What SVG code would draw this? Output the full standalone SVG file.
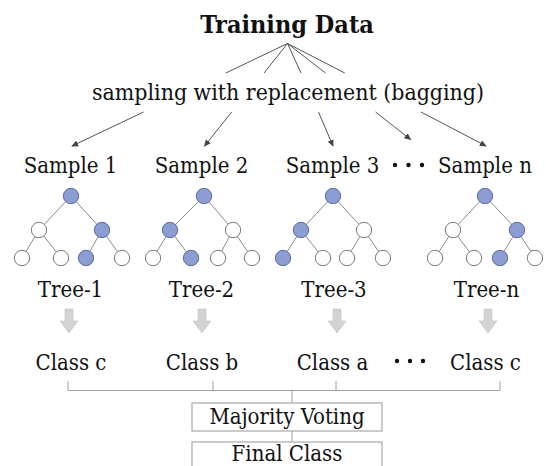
<svg xmlns="http://www.w3.org/2000/svg" width="546" height="466" viewBox="0 0 546 466">
<defs>
<style>
text{font-family:"DejaVu Serif","Liberation Serif",serif;font-stretch:condensed;fill:#111;text-anchor:middle}
.t{font-size:22px}
.title{font-size:25px;font-weight:bold}
.ln{stroke:#555;stroke-width:1;fill:none}
.ar{stroke:#555;stroke-width:1;fill:none;marker-end:url(#ah)}
.e{stroke:#8a8a8a;stroke-width:1;fill:none}
.w{fill:#fff;stroke:#7a7a7a;stroke-width:1}
.b{fill:#8c9dd3;stroke:#5d6c9a;stroke-width:1}
.br{stroke:#a0a0a0;stroke-width:1;fill:none}
.box{fill:#fff;stroke:#a8a8a8;stroke-width:1.2}
.ga{fill:#d3d3d3;stroke:#c4c4c4;stroke-width:0.6}
.dot{fill:#111}
</style>
<marker id="ah" viewBox="0 0 8 8" refX="7" refY="4" markerWidth="7" markerHeight="7" markerUnits="userSpaceOnUse" orient="auto">
<path d="M0,0.5 L8,4 L0,7.5 z" fill="#444"/>
</marker>
<path id="garrow" d="M-4,0 H4 V12 H9 L0,24 L-9,12 H-4 Z"/>
</defs>

<g id="training-data">
<text class="title" x="287" y="33">Training Data</text>
</g>

<g id="connectors">
<line class="ln" x1="287.5" y1="43.5" x2="225.8" y2="73"/>
<line class="ln" x1="287.5" y1="43.5" x2="264" y2="73"/>
<line class="ln" x1="287.5" y1="43.5" x2="301" y2="73"/>
<line class="ln" x1="287.5" y1="43.5" x2="325.5" y2="73"/>
<line class="ln" x1="287.5" y1="43.5" x2="344.8" y2="73"/>
<line class="ar" x1="143.5" y1="112" x2="72" y2="146"/>
<line class="ar" x1="231.7" y1="112" x2="204.5" y2="146"/>
<line class="ar" x1="318.5" y1="112" x2="333" y2="146"/>
<line class="ar" x1="375.6" y1="112" x2="410.6" y2="139.5"/>
<line class="ar" x1="421" y1="112" x2="486" y2="146"/>
<use href="#garrow" class="ga" x="69" y="309"/>
<use href="#garrow" class="ga" x="202" y="309"/>
<use href="#garrow" class="ga" x="337" y="309"/>
<use href="#garrow" class="ga" x="488" y="309"/>
<path class="br" d="M68,381 V390.5 H500 V381 M213,381 V390.5 M336,381 V390.5 M292,390.5 V403 M292,431 V442"/>
</g>

<g id="bagging">
<text class="t" x="288" y="100" textLength="392" lengthAdjust="spacingAndGlyphs">sampling with replacement (bagging)</text>
</g>

<g id="sample-1"><text class="t" x="70.5" y="173">Sample 1</text></g>
<g id="sample-2"><text class="t" x="201.5" y="173">Sample 2</text></g>
<g id="sample-3"><text class="t" x="332.5" y="173">Sample 3</text></g>
<g id="sample-dots"><circle class="dot" cx="395" cy="165" r="2.2"/><circle class="dot" cx="408.5" cy="165" r="2.2"/><circle class="dot" cx="422" cy="165" r="2.2"/></g>
<g id="sample-n"><text class="t" x="485" y="173">Sample n</text></g>

<g id="tree-1">
<path class="e" d="M71,196 L39,230 M71,196 L102,230 M39,230 L22,258 M39,230 L61,258 M102,230 L86,258 M102,230 L122,258"/>
<circle class="b" cx="71" cy="196" r="7.7"/>
<circle class="w" cx="39" cy="230" r="7.7"/><circle class="b" cx="102" cy="230" r="7.7"/>
<circle class="w" cx="22" cy="258" r="7.7"/><circle class="w" cx="61" cy="258" r="7.7"/><circle class="b" cx="86" cy="258" r="7.7"/><circle class="w" cx="122" cy="258" r="7.7"/>
<text class="t" x="70.5" y="297">Tree-1</text>
</g>
<g id="tree-2">
<path class="e" d="M204,196 L170,230 M204,196 L233,230 M170,230 L153,258 M170,230 L191,258 M233,230 L218,258 M233,230 L252,258"/>
<circle class="b" cx="204" cy="196" r="7.7"/>
<circle class="b" cx="170" cy="230" r="7.7"/><circle class="w" cx="233" cy="230" r="7.7"/>
<circle class="w" cx="153" cy="258" r="7.7"/><circle class="b" cx="191" cy="258" r="7.7"/><circle class="w" cx="218" cy="258" r="7.7"/><circle class="w" cx="252" cy="258" r="7.7"/>
<text class="t" x="201.5" y="297">Tree-2</text>
</g>
<g id="tree-3">
<path class="e" d="M333,196 L301,230 M333,196 L364,230 M301,230 L283,258 M301,230 L323,258 M364,230 L347,258 M364,230 L383,258"/>
<circle class="b" cx="333" cy="196" r="7.7"/>
<circle class="b" cx="301" cy="230" r="7.7"/><circle class="w" cx="364" cy="230" r="7.7"/>
<circle class="b" cx="283" cy="258" r="7.7"/><circle class="w" cx="323" cy="258" r="7.7"/><circle class="w" cx="347" cy="258" r="7.7"/><circle class="w" cx="383" cy="258" r="7.7"/>
<text class="t" x="334" y="297">Tree-3</text>
</g>
<g id="tree-n">
<path class="e" d="M485,196 L453,230 M485,196 L517,230 M453,230 L435,258 M453,230 L474,258 M517,230 L500,258 M517,230 L535,258"/>
<circle class="b" cx="485" cy="196" r="7.7"/>
<circle class="w" cx="453" cy="230" r="7.7"/><circle class="b" cx="517" cy="230" r="7.7"/>
<circle class="w" cx="435" cy="258" r="7.7"/><circle class="w" cx="474" cy="258" r="7.7"/><circle class="b" cx="500" cy="258" r="7.7"/><circle class="w" cx="535" cy="258" r="7.7"/>
<text class="t" x="486.5" y="297">Tree-n</text>
</g>

<g id="class-1"><text class="t" x="71" y="370">Class c</text></g>
<g id="class-2"><text class="t" x="202" y="370">Class b</text></g>
<g id="class-3"><text class="t" x="332.5" y="370">Class a</text></g>
<g id="class-dots"><circle class="dot" cx="397" cy="361" r="2.2"/><circle class="dot" cx="410" cy="361" r="2.2"/><circle class="dot" cx="423" cy="361" r="2.2"/></g>
<g id="class-n"><text class="t" x="485.5" y="370">Class c</text></g>

<g id="majority-voting">
<rect class="box" x="192" y="403" width="190" height="28"/>
<text class="t" x="287" y="424">Majority Voting</text>
</g>
<g id="final-class">
<rect class="box" x="192" y="442" width="190" height="30"/>
<text class="t" x="287" y="461">Final Class</text>
</g>
</svg>
